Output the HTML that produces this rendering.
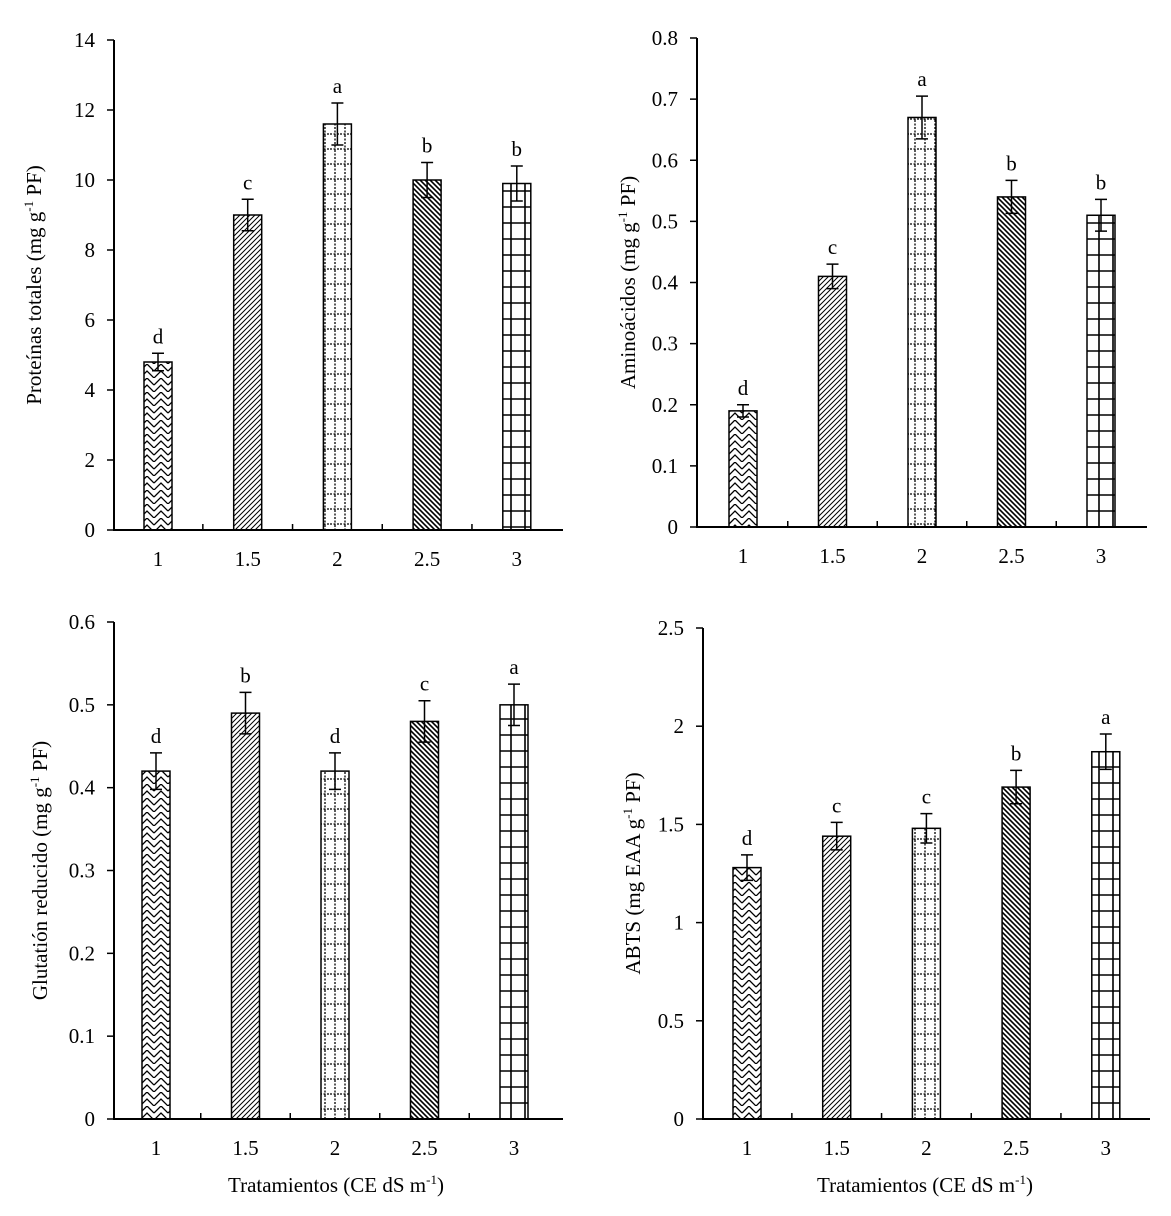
<!DOCTYPE html>
<html><head><meta charset="utf-8"><style>
body{margin:0;background:#fff;}
svg{display:block;font-family:"Liberation Serif",serif;}
</style></head><body>
<svg id="c" width="1171" height="1216" viewBox="0 0 1171 1216">
<defs>
<pattern id="p0" width="14" height="14" patternUnits="userSpaceOnUse"><rect width="14" height="14" fill="#fff"/><path d="M0 7 L7 0 L14 7 M0 14 L7 7 L14 14" stroke="#000" stroke-width="1.3" fill="none"/></pattern>
<pattern id="p1" width="5" height="5" patternUnits="userSpaceOnUse"><rect width="5" height="5" fill="#fff"/><path d="M-1 6 L6 -1 M-1 1 L1 -1 M4 6 L6 4" stroke="#000" stroke-width="1"/></pattern>
<pattern id="p2" width="10" height="15" patternUnits="userSpaceOnUse"><rect width="10" height="15" fill="#fff"/><path d="M0 14 H10 M5 0 V15" stroke="#000" stroke-width="1.3" stroke-dasharray="2,1.5"/></pattern>
<pattern id="p3" width="5" height="5" patternUnits="userSpaceOnUse"><rect width="5" height="5" fill="#fff"/><path d="M-1 -1 L6 6 M4 -1 L6 1 M-1 4 L1 6" stroke="#000" stroke-width="1.6"/></pattern>
<pattern id="p4" width="14" height="16" patternUnits="userSpaceOnUse"><rect width="14" height="16" fill="#fff"/><path d="M0 15 H14 M7 0 V16" stroke="#000" stroke-width="1.6"/></pattern>
</defs>
</svg>
<script>
const cats=["1","1.5","2","2.5","3"];
const v1=[4.8,9.0,11.6,10.0,9.9], e1=[0.25,0.45,0.6,0.5,0.5], l1=["d","c","a","b","b"];
const v2=[0.19,0.41,0.67,0.54,0.51], e2=[0.01,0.02,0.035,0.027,0.026], l2=["d","c","a","b","b"];
const v3=[0.42,0.49,0.42,0.48,0.50], e3=[0.022,0.025,0.022,0.025,0.025], l3=["d","b","d","c","a"];
const v4=[1.28,1.44,1.48,1.69,1.87], e4=[0.065,0.07,0.075,0.085,0.09], l4=["d","c","c","b","a"];
const t1=[0,2,4,6,8,10,12,14], t2=[0,0.1,0.2,0.3,0.4,0.5,0.6,0.7,0.8], t3=[0,0.1,0.2,0.3,0.4,0.5,0.6], t4=[0,0.5,1,1.5,2,2.5];
const svg=document.getElementById('c');const NS="http://www.w3.org/2000/svg";
const FS=21;
function mk(t,a,p){const e=document.createElementNS(NS,t);for(const k in a)e.setAttribute(k,a[k]);(p||svg).appendChild(e);return e;}
function panel(o){
  const g=mk('g',{});
  
  
  const ymax=o.ticks[o.ticks.length-1];
  const ys=v=>o.y0-(o.y0-o.ytop)*v/ymax;
  const xs=i=>o.x0+o.first+i*o.step;
  o.vals.forEach((v,i)=>{
    const b=mk('rect',{x:xs(i)-14,y:ys(v),width:28,height:o.y0-ys(v),fill:'url(#p'+i+')',stroke:'#000','stroke-width':1.5},g);
    
    
    const hi=ys(v+o.err[i]),lo=ys(v-o.err[i]);
    const eb=mk('path',{d:`M${xs(i)} ${hi}V${lo}M${xs(i)-6} ${hi}H${xs(i)+6}M${xs(i)-6} ${lo}H${xs(i)+6}`,stroke:'#000','stroke-width':1.5,fill:'none'},g);
    
    
    const t=mk('text',{x:xs(i),y:hi-10,'text-anchor':'middle','font-size':FS},g);t.textContent=o.let[i];
    
    
    const c=mk('text',{x:xs(i),y:o.y0+36,'text-anchor':'middle','font-size':FS},g);c.textContent=cats[i];
    
    
    if(i<4)mk('path',{d:`M${xs(i)+o.step/2} ${o.y0}v-6`,stroke:'#000','stroke-width':1.5},g);
  });
  mk('path',{d:`M${o.x0} ${o.ytop}V${o.y0}H${o.x1}`,stroke:'#000','stroke-width':2,fill:'none'},g);
  o.ticks.forEach(t=>{
    mk('path',{d:`M${o.x0-7} ${ys(t)}H${o.x0}`,stroke:'#000','stroke-width':1.5},g);
    const tl=mk('text',{x:o.x0-19,y:ys(t)+7,'text-anchor':'end','font-size':FS},g);tl.textContent=String(t);
    
    
  });
  const yl=mk('text',{transform:`translate(${o.ylx},${(o.y0+o.ytop)/2}) rotate(-90)`,'text-anchor':'middle','font-size':FS},g);
  yl.innerHTML=o.ylab;
  
  
  if(o.xlab){const xl=mk('text',{x:o.x0+222,y:1192,'text-anchor':'middle','font-size':FS},g);xl.innerHTML='Tratamientos (CE dS m<tspan font-size="13" dy="-8">-1</tspan><tspan dy="8">)</tspan>';
    
    }
}
panel({name:'chart-proteinas',x0:114,x1:563,y0:530,ytop:40,first:44,step:89.7,ticks:t1,vals:v1,err:e1,let:l1,ylx:41,ylab:'Proteínas totales  (mg g<tspan font-size="13" dy="-8">-1</tspan><tspan dy="8"> PF)</tspan>'});
panel({name:'chart-aminoacidos',x0:697,x1:1147,y0:527,ytop:38,first:46,step:89.5,ticks:t2,vals:v2,err:e2,let:l2,ylx:635,ylab:'Aminoácidos  (mg g<tspan font-size="13" dy="-8">-1</tspan><tspan dy="8"> PF)</tspan>'});
panel({name:'chart-glutation',x0:114,x1:563,y0:1119,ytop:622,first:42,step:89.5,ticks:t3,vals:v3,err:e3,let:l3,ylx:47,xlab:true,ylab:'Glutatión reducido (mg g<tspan font-size="13" dy="-8">-1</tspan><tspan dy="8"> PF)</tspan>'});
panel({name:'chart-abts',x0:703,x1:1150,y0:1119,ytop:628,first:44,step:89.7,ticks:t4,vals:v4,err:e4,let:l4,ylx:640,xlab:true,ylab:'ABTS (mg EAA g<tspan font-size="13" dy="-8">-1</tspan><tspan dy="8"> PF)</tspan>'});
</script>
</body></html>
